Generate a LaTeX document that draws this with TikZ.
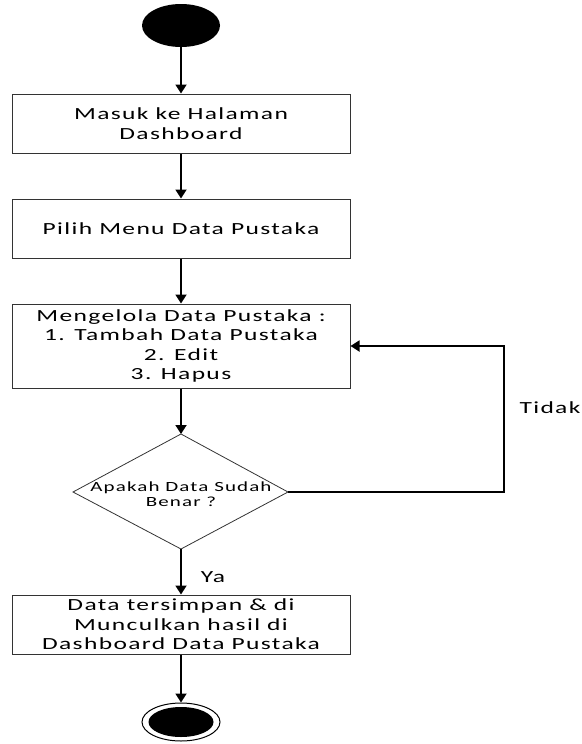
\documentclass[tikz,border=0pt]{standalone}
\usepackage{fontspec}
\setmainfont{Carlito}
\newfontfamily\widefont[FakeStretch=1.5,LetterSpace=8]{Carlito}
\usetikzlibrary{shapes.geometric,arrows.meta}
\begin{document}
\begin{tikzpicture}[x=1pt,y=-1pt,
  box/.style={draw=black!80, line width=1pt, fill=white, rectangle, minimum width=338pt, align=center, inner sep=2pt, font=\widefont\fontsize{17}{19.5}\selectfont},
  flow/.style={line width=1.8pt, -{Triangle[width=11pt,length=9pt]}},
  lbl/.style={font=\widefont\fontsize{17}{19.5}\selectfont, inner sep=0pt}]
\useasboundingbox (0,0) rectangle (581,744);
\node[ellipse, fill=black, minimum width=78pt, minimum height=43pt, inner sep=0pt] (start) at (181,25.5) {};
\node[box, minimum height=59pt] (b1) at (181,123.5) {Masuk ke Halaman\\Dashboard};
\node[box, minimum height=59pt] (b2) at (181,228.5) {Pilih Menu Data Pustaka};
\node[box, minimum height=84pt] (b3) at (181,346) {Mengelola Data Pustaka :\\1. Tambah Data Pustaka\\2. Edit\\3. Hapus};
\coordinate (dtop) at (181,434);
\coordinate (dright) at (288,492);
\coordinate (dbot) at (181,549);
\coordinate (dleft) at (73,492);
\draw[black!80, line width=0.8pt] (dtop) -- (dright) -- (dbot) -- (dleft) -- cycle;
\node[align=center, inner sep=0pt, font=\widefont\fontsize{14}{14.5}\selectfont] (dtext) at (181,494) {Apakah Data Sudah\\Benar ?};
\node[box, minimum height=59pt] (b4) at (181,624.5) {Data tersimpan \& di\\Munculkan hasil di\\Dashboard Data Pustaka};
\node[ellipse, draw=black, line width=1pt, minimum width=78pt, minimum height=38pt, inner sep=0pt] (endo) at (181,722) {};
\node[ellipse, fill=black, minimum width=65pt, minimum height=30pt, inner sep=0pt] (endi) at (endo.center) {};
\coordinate (loopa) at (504,492);
\draw[flow] (start) -- (b1);
\draw[flow] (b1) -- (b2);
\draw[flow] (b2) -- (b3);
\draw[flow] (b3) -- (dtop);
\draw[flow] (dbot) -- (b4);
\draw[flow] (b4) -- (endo);
\draw[flow] (dright) -- (loopa) |- (b3.east);
\node[lbl] (ya) at (213,577) {Ya};
\node[lbl] (tidak) at (550,408) {Tidak};
\end{tikzpicture}
\end{document}
